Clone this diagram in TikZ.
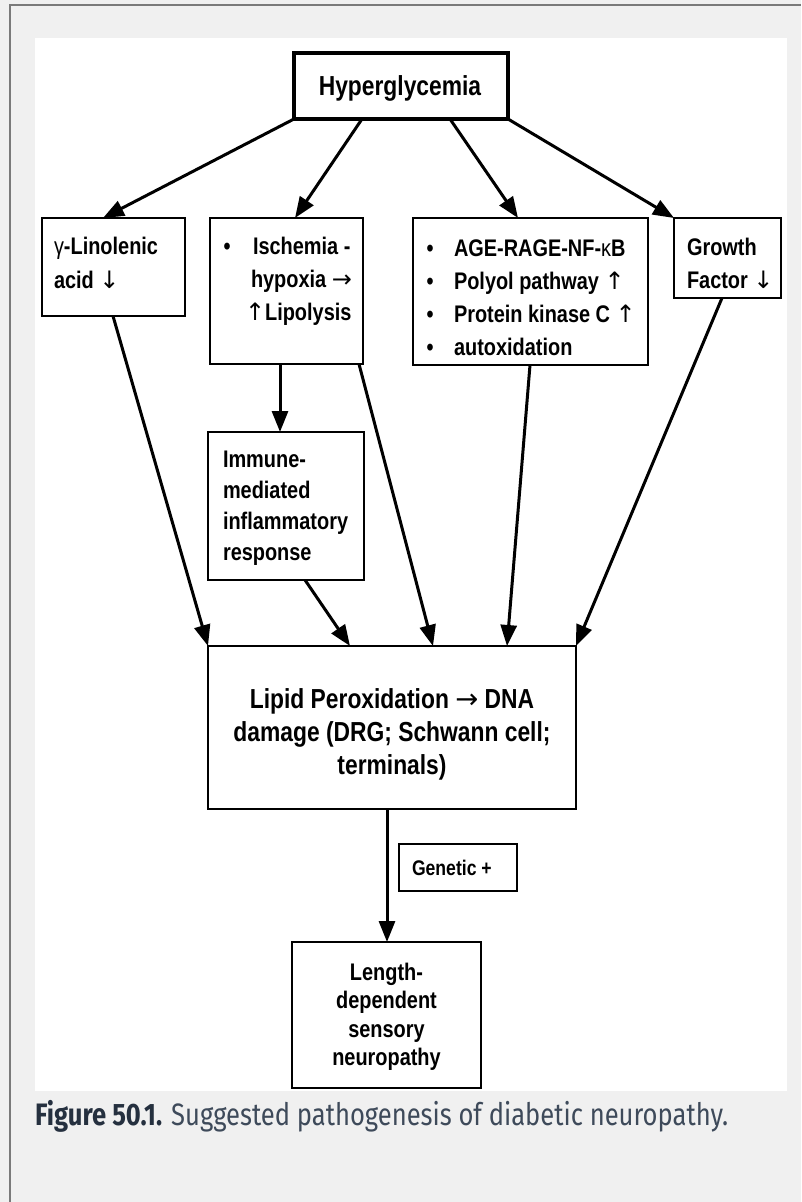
\documentclass[tikz,border=0pt]{standalone}
\usepackage{fontspec}
\usepackage{graphicx}
\usetikzlibrary{arrows.meta}
\newfontfamily\dfont[FakeStretch=0.83]{Liberation Sans}
\newfontfamily\afont{DejaVu Sans}
\newfontfamily\cfont{Fira Sans}
\newcommand{\ar}[1]{{\afont\mdseries #1}}
\definecolor{bgray}{HTML}{F0F0F0}
\definecolor{frame}{HTML}{7A7A7A}
\definecolor{capb}{HTML}{25303F}
\definecolor{capr}{HTML}{3E4A5A}
\begin{document}
\begin{tikzpicture}[x=1pt,y=-1pt,
  box/.style={draw=black, line width=2.7pt, fill=white, inner sep=0pt, outer sep=0pt},
  arr/.style={line width=3pt, -{Triangle[length=21pt,width=16pt]}},
  txt/.style={inner sep=0pt, outer sep=0pt, font=\dfont\bfseries\fontsize{24}{28}\selectfont},
  bigtxt/.style={inner sep=0pt, outer sep=0pt, font=\dfont\bfseries\fontsize{27.5}{32}\selectfont},
  smalltxt/.style={inner sep=0pt, outer sep=0pt, font=\dfont\bfseries\fontsize{21.2}{25}\selectfont}]
\fill[bgray] (0,0) rectangle (801,1202);
\useasboundingbox (0,0) rectangle (801,1202);
\draw[frame, line width=2pt] (10,1202) -- (10,5) -- (801,5);
\fill[white] (35,38) rectangle (787,1091);

% boxes
\node[box, line width=4.5pt, minimum width=214pt, minimum height=66pt] (hyp) at (401,86) {};
\node[box, minimum width=143pt, minimum height=98pt] (g) at (113.5,267) {};
\node[box, minimum width=153pt, minimum height=146pt] (isch) at (286.5,291) {};
\node[box, minimum width=235pt, minimum height=147pt] (age) at (530.5,291.5) {};
\node[box, minimum width=107pt, minimum height=80pt] (gf) at (727.5,258) {};
\node[box, minimum width=156pt, minimum height=148pt] (imm) at (286,506) {};
\node[box, minimum width=368pt, minimum height=163pt] (lip) at (392,727.5) {};
\node[box, line width=1.8pt, minimum width=118pt, minimum height=47pt] (gen) at (458,867.5) {};
\node[box, minimum width=189pt, minimum height=146pt] (len) at (386.5,1015) {};

% texts
\node[bigtxt, anchor=base] (hypt) at (400,95) {Hyperglycemia};

\node[txt, anchor=base west] (g1) at (54,254) {{\mdseries γ}-Linolenic};
\node[txt, anchor=base west] (g2) at (54,288) {acid \ar{↓}};

\node[txt, anchor=base] (ib) at (227,254) {•};
\node[txt, anchor=base west] (i1) at (253,254) {Ischemia -};
\node[txt, anchor=base west] (i2) at (251,287) {hypoxia \ar{→}};
\node[txt, anchor=base west] (i3) at (245,320) {\ar{↑}Lipolysis};

\node[txt, anchor=base] (ab1) at (430,256) {•};
\node[txt, anchor=base] (ab2) at (430,289) {•};
\node[txt, anchor=base] (ab3) at (430,322) {•};
\node[txt, anchor=base] (ab4) at (430,355) {•};
\node[txt, anchor=base west] (a1) at (454,256) {AGE-RAGE-NF-{\mdseries κ}B};
\node[txt, anchor=base west] (a2) at (454,289) {Polyol pathway \ar{↑}};
\node[txt, anchor=base west] (a3) at (454,322) {Protein kinase C \ar{↑}};
\node[txt, anchor=base west] (a4) at (454,355) {autoxidation};

\node[txt, anchor=base west] (f1) at (687,255) {Growth};
\node[txt, anchor=base west] (f2) at (687,288) {Factor \ar{↓}};

\node[txt, anchor=base west] (m1) at (223,467) {Immune-};
\node[txt, anchor=base west] (m2) at (223,498) {mediated};
\node[txt, anchor=base west] (m3) at (223,529) {inflammatory};
\node[txt, anchor=base west] (m4) at (223,560) {response};

\node[bigtxt, anchor=base] (l1) at (392,708) {Lipid Peroxidation \ar{→} DNA};
\node[bigtxt, anchor=base] (l2) at (392,741) {damage (DRG; Schwann cell;};
\node[bigtxt, anchor=base] (l3) at (392,774) {terminals)};

\node[smalltxt, anchor=base west] (gt) at (412,875) {Genetic +};

\node[txt, anchor=base] (n1) at (386.5,980) {Length-};
\node[txt, anchor=base] (n2) at (386.5,1008.5) {dependent};
\node[txt, anchor=base] (n3) at (386.5,1037) {sensory};
\node[txt, anchor=base] (n4) at (386.5,1065.5) {neuropathy};

% connectors
\draw[arr] (hyp.south west) -- ([xshift=61pt]g.north west);
\draw[arr] ([xshift=68pt]hyp.south west) -- ([xshift=85pt]isch.north west);
\draw[arr] ([xshift=156pt]hyp.south west) -- ([xshift=105pt]age.north west);
\draw[arr] (hyp.south east) -- (gf.north west);
\draw[arr] ([xshift=71pt]g.south west) -- (lip.north west);
\draw[arr] ([xshift=-6.5pt]isch.south) -- ([xshift=-6pt]imm.north);
\draw[arr] ([xshift=97pt]imm.south west) -- ([xshift=142pt]lip.north west);
\draw[arr] ([xshift=-4pt]isch.south east) -- ([xshift=225pt]lip.north west);
\draw[arr] ([xshift=117pt]age.south west) -- ([xshift=299pt]lip.north west);
\draw[arr] ([xshift=48pt]gf.south west) -- (lip.north east);
\draw[arr] ([xshift=-5pt]lip.south) -- ([xshift=0.5pt]len.north);

% caption
\node[anchor=base west, inner sep=0pt] (cap) at (35,1125) {\resizebox{693pt}{\height}{\cfont\fontsize{31}{36}\selectfont\textcolor{capb}{\bfseries Figure 50.1.} \textcolor{capr}{Suggested pathogenesis of diabetic neuropathy.}}};
\end{tikzpicture}
\end{document}
